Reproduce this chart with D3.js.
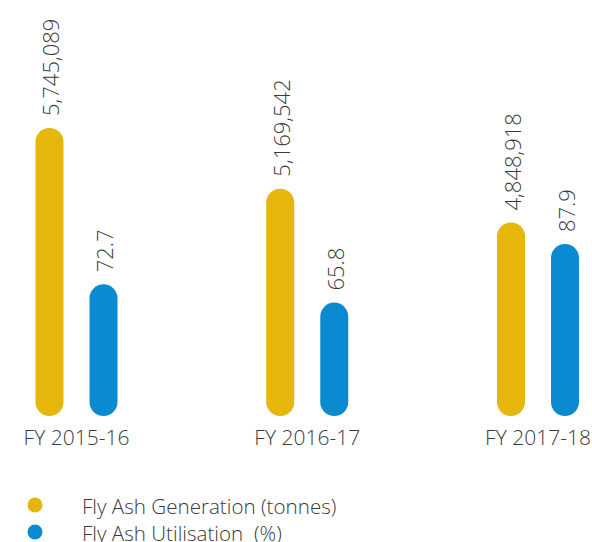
<!DOCTYPE html>
<html><head><meta charset="utf-8">
<script src="https://cdn.jsdelivr.net/npm/d3@7"></script>
<style>html,body{margin:0;padding:0;background:#fff;}svg{display:block;}text{font-family:"Open Sans",sans-serif;}</style>
</head><body>
<svg id="c" width="592" height="542"></svg>
<script>
const categories = ["FY 2015-16", "FY 2016-17", "FY 2017-18"];
const generation = [5745089, 5169542, 4848918];
const utilisation = [72.7, 65.8, 87.9];
const generationLabels = ["5,745,089", "5,169,542", "4,848,918"];
const utilisationLabels = ["72.7", "65.8", "87.9"];
const seriesNames = ["Fly Ash Generation (tonnes)", "Fly Ash Utilisation  (%)"];
const colors = ["#E6B60A", "#0A8AD0"];

const svg = d3.select("#c");
const baseY = 416;
const barW = 28;
const x = d3.scalePoint().domain(categories).range([76.5, 538]);
const xs = d3.scalePoint().domain([0, 1]).range([-27, 27]);
const yGen = d3.scaleLinear().domain([3012000, 5745089]).range([baseY, 128]);
const yUti = d3.scaleLinear().domain([23, 87.9]).range([baseY, 244]);

const series = [
  {vals: generation, labels: generationLabels, y: yGen},
  {vals: utilisation, labels: utilisationLabels, y: yUti}
];

series.forEach((s, si) => {
  const g = svg.append("g");
  g.selectAll("rect").data(categories).join("rect")
    .attr("x", (c) => x(c) + xs(si) - barW / 2)
    .attr("y", (c, i) => s.y(s.vals[i]))
    .attr("width", barW)
    .attr("height", (c, i) => baseY - s.y(s.vals[i]))
    .attr("rx", barW / 2).attr("ry", barW / 2)
    .attr("fill", colors[si]);
  g.selectAll("text").data(categories).join("text")
    .attr("transform", (c, i) => `translate(${x(c) + xs(si) + 2},${s.y(s.vals[i]) - 12}) rotate(-90)`)
    .attr("dy", "0.36em")
    .attr("text-anchor", "start")
    .attr("font-size", 22)
    .attr("font-weight", 300)
    .attr("fill", "#3a3a3a")
    .text((c, i) => s.labels[i]);
});

svg.append("g").selectAll("text").data(categories).join("text")
  .attr("x", (c) => x(c))
  .attr("y", 445)
  .attr("text-anchor", "middle")
  .attr("font-size", 21)
  .attr("font-weight", 300)
  .attr("fill", "#3a3a3a")
  .text((c) => c);

const leg = svg.append("g");
seriesNames.forEach((n, i) => {
  const yy = 505 + i * 27;
  leg.append("circle").attr("cx", 35).attr("cy", yy).attr("r", 7.5).attr("fill", colors[i]);
  leg.append("text").attr("x", 82).attr("y", yy + 9)
    .attr("font-size", 20.6).attr("font-weight", 300).attr("fill", "#3a3a3a")
    .style("white-space", "pre").text(n);
});
</script>
</body></html>
